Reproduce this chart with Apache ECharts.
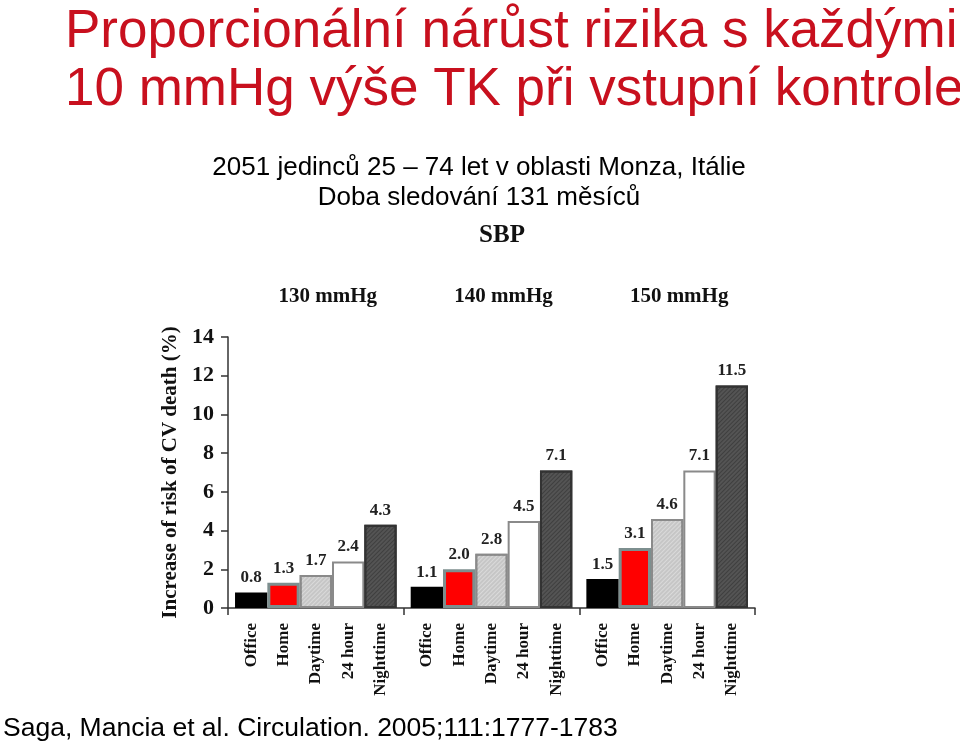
<!DOCTYPE html>
<html>
<head>
<meta charset="utf-8">
<script src="https://cdn.jsdelivr.net/npm/echarts@6/dist/echarts.min.js"></script>
<style>html,body{margin:0;padding:0;background:#fff;}#c{width:960px;height:746px;}</style>
</head>
<body>
<div id="c"></div>
<script>
const groups = ['130 mmHg', '140 mmHg', '150 mmHg'];
const measures = ['Office', 'Home', 'Daytime', '24 hour', 'Nighttime'];
const office = [0.8, 1.1, 1.5];
const home = [1.3, 2.0, 3.1];
const daytime = [1.7, 2.8, 4.6];
const hour24 = [2.4, 4.5, 7.1];
const nighttime = [4.3, 7.1, 11.5];
const yTicks = [0, 2, 4, 6, 8, 10, 12, 14];

const values = [office, home, daytime, hour24, nighttime];
const serif = 'Liberation Serif';
const sans = 'Liberation Sans';

const styles = [
  { color: '#000000', borderColor: '#000000', borderWidth: 0 },
  { color: '#ff0000', borderColor: '#7d8f8f', borderWidth: 3 },
  { color: '#c6c6c6', borderColor: '#8a8a8a', borderWidth: 2,
    decal: { symbol: 'rect', symbolSize: 1, dashArrayX: [1, 0], dashArrayY: [1, 2], rotation: -Math.PI / 4, color: 'rgba(255,255,255,0.35)' } },
  { color: '#ffffff', borderColor: '#8a8a8a', borderWidth: 2 },
  { color: '#545454', borderColor: '#333333', borderWidth: 2,
    decal: { symbol: 'rect', symbolSize: 1, dashArrayX: [1, 0], dashArrayY: [1, 2], rotation: -Math.PI / 4, color: 'rgba(0,0,0,0.25)' } }
];

const series = [];
measures.forEach((m, i) => {
  series.push({
    name: m,
    type: 'bar',
    xAxisIndex: 0,
    data: values[i],
    barGap: '0%',
    barCategoryGap: '8%',
    itemStyle: styles[i],
    label: {
      show: true, position: 'top', distance: 6,
      formatter: p => p.value.toFixed(1),
      fontFamily: serif, fontWeight: 'bold', fontSize: 17, color: '#222'
    },
    silent: true
  });
});
measures.forEach((m, i) => {
  series.push({
    name: m,
    type: 'bar',
    xAxisIndex: 1,
    data: values[i],
    barGap: '0%',
    barCategoryGap: '8%',
    itemStyle: { color: 'rgba(0,0,0,0)' },
    label: {
      show: true, position: 'bottom', distance: 15, rotate: 90,
      align: 'right', verticalAlign: 'middle',
      formatter: () => m,
      fontFamily: serif, fontWeight: 'bold', fontSize: 17, color: '#111'
    },
    silent: true
  });
});

const chart = echarts.init(document.getElementById('c'));
chart.setOption({
  animation: false,
  backgroundColor: '#fff',
  title: [
    { text: 'Proporcionální nárůst rizika s každými\n10 mmHg výše TK při vstupní kontrole',
      left: 60, top: -2,
      textStyle: { fontFamily: sans, fontWeight: 'normal', fontSize: 53, lineHeight: 58, color: '#c8101e' } },
    { text: '2051 jedinců 25 – 74 let v oblasti Monza, Itálie\nDoba sledování 131 měsíců',
      left: 474, top: 148, textAlign: 'center',
      textStyle: { fontFamily: sans, fontWeight: 'normal', fontSize: 26, lineHeight: 30, color: '#000', align: 'center' } },
    { text: 'SBP', left: 497, top: 218, textAlign: 'center',
      textStyle: { fontFamily: serif, fontWeight: 'bold', fontSize: 25, color: '#111' } },
    { text: 'Saga, Mancia et al. Circulation. 2005;111:1777-1783', left: -2, top: 710,
      textStyle: { fontFamily: sans, fontWeight: 'normal', fontSize: 26.5, color: '#000' } }
  ],
  grid: { left: 228, right: 205, top: 337, bottom: 138, containLabel: false },
  xAxis: [
    { type: 'category', data: groups, position: 'bottom',
      axisLine: { lineStyle: { color: '#333', width: 1.5 } },
      axisTick: { show: true, length: 7, lineStyle: { color: '#333', width: 1.5 } },
      axisLabel: { show: false } },
    { type: 'category', data: groups, position: 'top',
      axisLine: { show: false }, axisTick: { show: false },
      axisLabel: { show: true, margin: 30, padding: [0, 0, 0, 24],
        fontFamily: serif, fontWeight: 'bold', fontSize: 21, color: '#111' } }
  ],
  yAxis: {
    type: 'value', min: yTicks[0], max: yTicks[yTicks.length - 1], interval: 2,
    name: 'Increase of risk of CV death (%)', nameLocation: 'middle', nameGap: 45, nameRotate: 90,
    nameTextStyle: { fontFamily: serif, fontWeight: 'bold', fontSize: 21, color: '#111' },
    axisLine: { show: true, lineStyle: { color: '#333', width: 1.5 } },
    axisTick: { show: true, length: 7, lineStyle: { color: '#333', width: 1.5 } },
    splitLine: { show: false },
    axisLabel: { fontFamily: serif, fontWeight: 'bold', fontSize: 22, color: '#111', margin: 14 }
  },
  series: series
});
</script>
</body>
</html>
